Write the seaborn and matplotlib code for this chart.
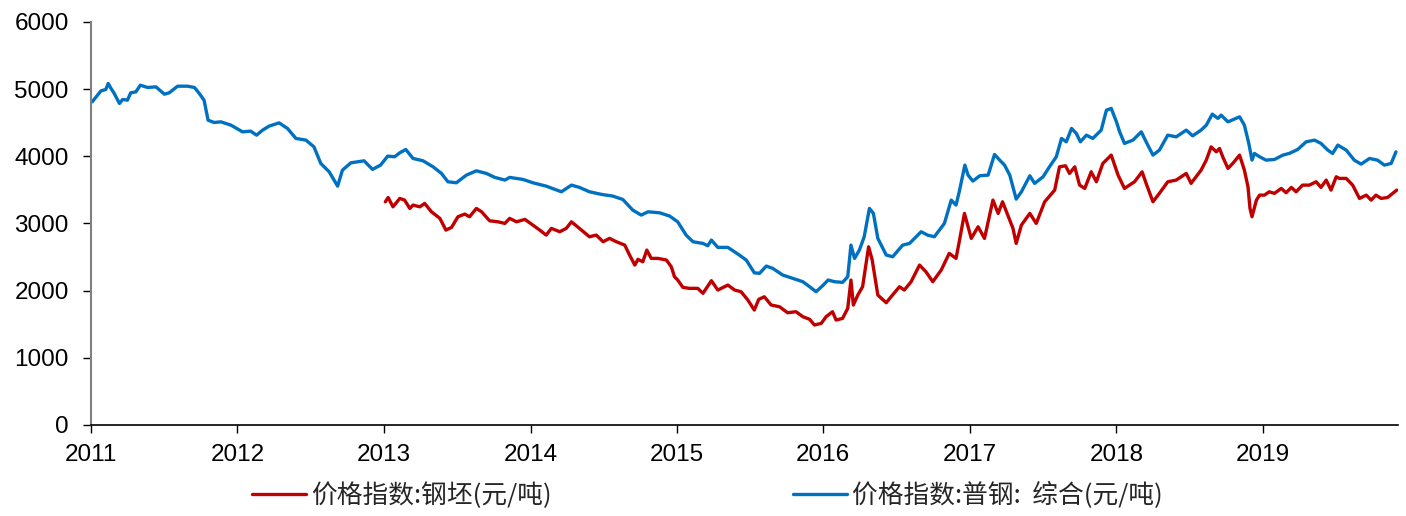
import matplotlib
matplotlib.use("Agg")
import matplotlib.pyplot as plt
import matplotlib.dates as mdates
import pandas as pd
import seaborn as sns

# 价格指数:普钢: 综合 (元/吨)
steel_dates = [
    "2011-01-04", "2011-01-26", "2011-02-07", "2011-02-13", "2011-02-20", "2011-02-28",
    "2011-03-13", "2011-03-21", "2011-04-02", "2011-04-10", "2011-04-23", "2011-05-04",
    "2011-05-22", "2011-06-12", "2011-07-03", "2011-07-15", "2011-08-05", "2011-08-30",
    "2011-09-16", "2011-09-28", "2011-10-10", "2011-10-20", "2011-11-04", "2011-11-21",
    "2011-12-16", "2012-01-14", "2012-02-03", "2012-02-18", "2012-03-04", "2012-03-20",
    "2012-04-14", "2012-05-05", "2012-05-26", "2012-06-20", "2012-07-10", "2012-07-27",
    "2012-08-17", "2012-09-07", "2012-09-19", "2012-10-10", "2012-11-12", "2012-12-03",
    "2012-12-23", "2013-01-10", "2013-01-27", "2013-02-09", "2013-02-24", "2013-03-14",
    "2013-04-08", "2013-05-03", "2013-05-24", "2013-06-09", "2013-06-30", "2013-07-25",
    "2013-08-19", "2013-09-13", "2013-10-04", "2013-10-29", "2013-11-10", "2013-12-13",
    "2014-01-07", "2014-02-09", "2014-03-19", "2014-04-13", "2014-05-03", "2014-05-28",
    "2014-06-27", "2014-07-25", "2014-08-19", "2014-09-13", "2014-10-04", "2014-10-21",
    "2014-11-19", "2014-12-14", "2015-01-03", "2015-01-24", "2015-02-10", "2015-03-07",
    "2015-03-19", "2015-03-28", "2015-04-13", "2015-05-08", "2015-06-02", "2015-06-23",
    "2015-07-13", "2015-07-26", "2015-08-12", "2015-08-28", "2015-09-22", "2015-10-17",
    "2015-11-11", "2015-11-28", "2015-12-14", "2016-01-01", "2016-01-13", "2016-01-29",
    "2016-02-18", "2016-03-02", "2016-03-10", "2016-03-19", "2016-03-31", "2016-04-12",
    "2016-04-25", "2016-05-05", "2016-05-16", "2016-06-06", "2016-06-22", "2016-07-17",
    "2016-08-03", "2016-09-01", "2016-09-17", "2016-10-04", "2016-10-29", "2016-11-15",
    "2016-11-27", "2016-12-05", "2016-12-19", "2016-12-27", "2017-01-08", "2017-01-25",
    "2017-02-15", "2017-03-03", "2017-03-16", "2017-03-28", "2017-04-10", "2017-04-26",
    "2017-05-09", "2017-05-30", "2017-06-11", "2017-07-02", "2017-07-18", "2017-08-04",
    "2017-08-17", "2017-08-29", "2017-09-11", "2017-09-23", "2017-10-03", "2017-10-18",
    "2017-11-03", "2017-11-24", "2017-12-07", "2017-12-19", "2018-01-01", "2018-01-09",
    "2018-01-21", "2018-02-11", "2018-03-04", "2018-03-16", "2018-04-02", "2018-04-18",
    "2018-05-09", "2018-05-30", "2018-06-24", "2018-07-10", "2018-07-31", "2018-08-13",
    "2018-08-28", "2018-09-11", "2018-09-19", "2018-10-06", "2018-11-04", "2018-11-16",
    "2018-11-27", "2018-12-05", "2018-12-11", "2018-12-24", "2019-01-09", "2019-01-30",
    "2019-02-20", "2019-03-08", "2019-03-29", "2019-04-19", "2019-05-10", "2019-05-26",
    "2019-06-12", "2019-06-24", "2019-07-07", "2019-07-28", "2019-08-17", "2019-09-03",
    "2019-09-24", "2019-10-14", "2019-10-31", "2019-11-17", "2019-11-29",
]
steel_values = [
    4811, 4975, 4995, 5085, 5010, 4936,
    4787, 4846, 4836, 4945, 4960, 5059,
    5025, 5034, 4925, 4945, 5044, 5044,
    5025, 4936, 4836, 4538, 4504, 4513,
    4464, 4364, 4375, 4315, 4390, 4449,
    4498, 4415, 4266, 4241, 4141, 3894,
    3769, 3556, 3794, 3903, 3933, 3805,
    3869, 4003, 3993, 4052, 4102, 3968,
    3933, 3844, 3745, 3621, 3606, 3720,
    3784, 3745, 3686, 3646, 3686, 3656,
    3606, 3556, 3472, 3571, 3537, 3472,
    3433, 3408, 3358, 3199, 3125, 3174,
    3159, 3110, 3025, 2827, 2728, 2703,
    2668, 2753, 2644, 2644, 2545, 2455,
    2266, 2257, 2366, 2331, 2232, 2183,
    2133, 2058, 1984, 2083, 2158, 2133,
    2123, 2207, 2678, 2480, 2604, 2802,
    3224, 3150, 2778, 2530, 2505, 2678,
    2703, 2877, 2827, 2802, 3001, 3348,
    3274, 3472, 3869, 3720, 3631, 3710,
    3720, 4028, 3943, 3869, 3720, 3363,
    3472, 3710, 3597, 3695, 3844, 3993,
    4266, 4216, 4415, 4340, 4216, 4315,
    4266, 4390, 4687, 4713, 4513, 4364,
    4192, 4241, 4364, 4216, 4018, 4092,
    4315, 4290, 4390, 4305, 4390, 4464,
    4628, 4564, 4613, 4513, 4588, 4464,
    4192, 3943, 4043, 3993, 3943, 3953,
    4018, 4043, 4102, 4216, 4241, 4192,
    4092, 4043, 4167, 4092, 3943, 3884,
    3968, 3943, 3869, 3894, 4067,
]

# 价格指数:钢坯 (元/吨)
billet_dates = [
    "2013-01-04", "2013-01-11", "2013-01-23", "2013-02-09", "2013-02-21", "2013-03-06",
    "2013-03-14", "2013-03-31", "2013-04-12", "2013-04-29", "2013-05-20", "2013-06-04",
    "2013-06-18", "2013-07-04", "2013-07-21", "2013-08-02", "2013-08-19", "2013-09-01",
    "2013-09-21", "2013-10-12", "2013-10-29", "2013-11-10", "2013-11-27", "2013-12-18",
    "2014-01-07", "2014-01-24", "2014-02-09", "2014-02-22", "2014-03-15", "2014-03-31",
    "2014-04-13", "2014-05-03", "2014-05-28", "2014-06-14", "2014-07-01", "2014-07-17",
    "2014-08-03", "2014-08-24", "2014-09-05", "2014-09-18", "2014-09-26", "2014-10-08",
    "2014-10-18", "2014-10-29", "2014-11-15", "2014-12-06", "2014-12-18", "2014-12-26",
    "2015-01-03", "2015-01-16", "2015-02-01", "2015-02-22", "2015-03-07", "2015-03-28",
    "2015-04-13", "2015-05-08", "2015-05-25", "2015-06-10", "2015-06-27", "2015-07-13",
    "2015-07-24", "2015-08-07", "2015-08-24", "2015-09-14", "2015-10-04", "2015-10-25",
    "2015-11-11", "2015-11-28", "2015-12-10", "2015-12-27", "2016-01-08", "2016-01-24",
    "2016-02-02", "2016-02-18", "2016-03-02", "2016-03-10", "2016-03-16", "2016-03-27",
    "2016-04-08", "2016-04-23", "2016-05-02", "2016-05-16", "2016-06-06", "2016-06-18",
    "2016-07-09", "2016-07-21", "2016-08-07", "2016-08-28", "2016-09-13", "2016-09-30",
    "2016-10-21", "2016-11-10", "2016-11-27", "2016-12-05", "2016-12-18", "2017-01-04",
    "2017-01-21", "2017-02-06", "2017-02-27", "2017-03-12", "2017-03-23", "2017-04-05",
    "2017-04-18", "2017-04-26", "2017-05-09", "2017-05-30", "2017-06-15", "2017-07-06",
    "2017-07-31", "2017-08-12", "2017-08-27", "2017-09-06", "2017-09-19", "2017-10-01",
    "2017-10-14", "2017-10-30", "2017-11-12", "2017-11-28", "2017-12-19", "2018-01-05",
    "2018-01-21", "2018-02-15", "2018-03-06", "2018-03-16", "2018-04-02", "2018-04-18",
    "2018-05-09", "2018-05-30", "2018-06-24", "2018-07-06", "2018-07-31", "2018-08-13",
    "2018-08-25", "2018-09-07", "2018-09-15", "2018-09-23", "2018-10-06", "2018-10-18",
    "2018-11-04", "2018-11-16", "2018-11-25", "2018-11-30", "2018-12-05", "2018-12-16",
    "2018-12-24", "2019-01-05", "2019-01-17", "2019-01-30", "2019-02-16", "2019-02-28",
    "2019-03-13", "2019-03-25", "2019-04-10", "2019-04-27", "2019-05-14", "2019-05-26",
    "2019-06-08", "2019-06-20", "2019-07-03", "2019-07-11", "2019-07-28", "2019-08-13",
    "2019-08-30", "2019-09-16", "2019-09-28", "2019-10-10", "2019-10-23", "2019-11-08",
    "2019-11-21", "2019-12-01",
]
billet_values = [
    3323, 3387, 3248, 3373, 3348, 3224,
    3274, 3248, 3299, 3174, 3076, 2902,
    2941, 3100, 3140, 3100, 3224, 3174,
    3040, 3025, 3001, 3076, 3025, 3061,
    2976, 2902, 2827, 2927, 2877, 2927,
    3025, 2927, 2802, 2827, 2728, 2778,
    2728, 2678, 2530, 2381, 2466, 2430,
    2604, 2480, 2480, 2455, 2355, 2207,
    2158, 2049, 2034, 2034, 1960, 2148,
    2009, 2083, 2009, 1984, 1860, 1711,
    1870, 1909, 1786, 1760, 1671, 1686,
    1612, 1573, 1488, 1513, 1612, 1686,
    1562, 1587, 1736, 2158, 1786, 1934,
    2058, 2653, 2455, 1934, 1820, 1909,
    2058, 2009, 2133, 2381, 2281, 2133,
    2306, 2555, 2480, 2728, 3150, 2778,
    2951, 2778, 3348, 3150, 3323, 3125,
    2927, 2703, 2976, 3150, 3001, 3323,
    3497, 3844, 3859, 3745, 3844, 3571,
    3522, 3769, 3621, 3894, 4018, 3720,
    3522, 3621, 3769, 3597, 3323, 3448,
    3621, 3646, 3745, 3597, 3794, 3943,
    4141, 4067, 4117, 3993, 3820, 3894,
    4018, 3794, 3546, 3224, 3100, 3348,
    3422, 3422, 3472, 3448, 3522, 3458,
    3537, 3472, 3571, 3571, 3621, 3537,
    3646, 3497, 3695, 3671, 3671, 3571,
    3373, 3422, 3348, 3422, 3373, 3387,
    3448, 3497,
]

billet_label = "价格指数:钢坯(元/吨)"
steel_label = "价格指数:普钢:  综合(元/吨)"

sns.set_style("ticks")
plt.rcParams["font.family"] = ["Liberation Sans", "Noto Sans CJK SC", "DejaVu Sans"]

fig = plt.figure(figsize=(14.06, 5.16), dpi=100)
ax = fig.add_axes([0.0647, 0.1764, 0.9296, 0.7810])

sns.lineplot(x=pd.to_datetime(billet_dates), y=billet_values, color="#C00000",
             linewidth=2.4, label=billet_label, ax=ax)
sns.lineplot(x=pd.to_datetime(steel_dates), y=steel_values, color="#0070C0",
             linewidth=2.4, label=steel_label, ax=ax)

ax.set_xlim(pd.Timestamp("2011-01-01"), pd.Timestamp("2019-12-04"))
ax.set_ylim(0, 6000)
ax.set_yticks(range(0, 7000, 1000))
ax.xaxis.set_major_locator(mdates.YearLocator())
ax.xaxis.set_major_formatter(mdates.DateFormatter("%Y"))
ax.set_xlabel("")
ax.set_ylabel("")

for side in ["top", "right"]:
    ax.spines[side].set_visible(False)
ax.spines["left"].set_color("#7f7f7f")
ax.spines["left"].set_linewidth(1.5)
ax.spines["bottom"].set_color("black")
ax.spines["bottom"].set_linewidth(1.2)
ax.tick_params(axis="x", direction="out", length=6, width=1, pad=8, labelsize=17.5, colors="black")
ax.tick_params(axis="y", direction="out", length=6, width=1, pad=10, labelsize=17.5,
               color="black", labelcolor="black")
ax.grid(False)

handles, labels = ax.get_legend_handles_labels()
ax.get_legend().remove()
fig.legend(handles, labels, loc="center", bbox_to_anchor=(0.503, 0.039), ncol=2,
           frameon=False, handlelength=2.1, handletextpad=0.2,
           columnspacing=9.4,
           prop={"family": ["Noto Sans CJK SC", "DejaVu Sans"], "size": 18.5})

fig.savefig("out.png", dpi=100)
